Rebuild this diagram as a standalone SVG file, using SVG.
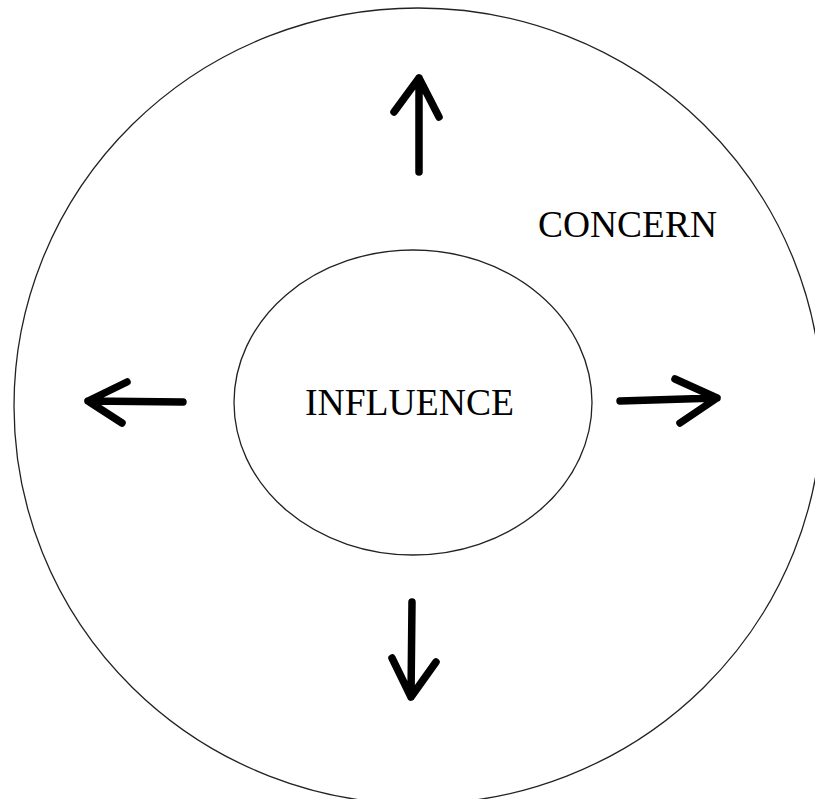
<svg xmlns="http://www.w3.org/2000/svg" width="815" height="799" viewBox="0 0 815 799">
  <style>
    .ring { fill: none; stroke: #222; stroke-width: 1.3; }
    .arrow { fill: none; stroke: #000; stroke-width: 7.5; stroke-linecap: round; stroke-linejoin: round; }
    .label { font-family: "Liberation Serif", "Times New Roman", serif; font-size: 37.5px; fill: #000; }
  </style>
  <rect width="815" height="799" fill="#fff"/>
  <g id="concern">
    <ellipse class="ring" cx="418" cy="406" rx="404" ry="398"/>
    <text class="label" x="538" y="237" textLength="179" lengthAdjust="spacingAndGlyphs">CONCERN</text>
  </g>
  <g id="influence">
    <ellipse class="ring" cx="413" cy="402.5" rx="179" ry="152.5"/>
    <text class="label" x="305" y="415" textLength="209" lengthAdjust="spacingAndGlyphs">INFLUENCE</text>
  </g>
  <g id="connectors">
    <!-- up -->
    <path class="arrow" d="M419 172 L419 78 M394 112 L419 78 L439 117"/>
    <!-- left -->
    <path class="arrow" d="M183 402 L88 401 M127 382 L88 401 L122 423"/>
    <!-- right -->
    <path class="arrow" d="M620 401 L717 398 M675 379 L717 398 L680 423"/>
    <!-- down -->
    <path class="arrow" d="M412 602 L411 697 M392 658 L411 697 L436 662"/>
  </g>
</svg>
